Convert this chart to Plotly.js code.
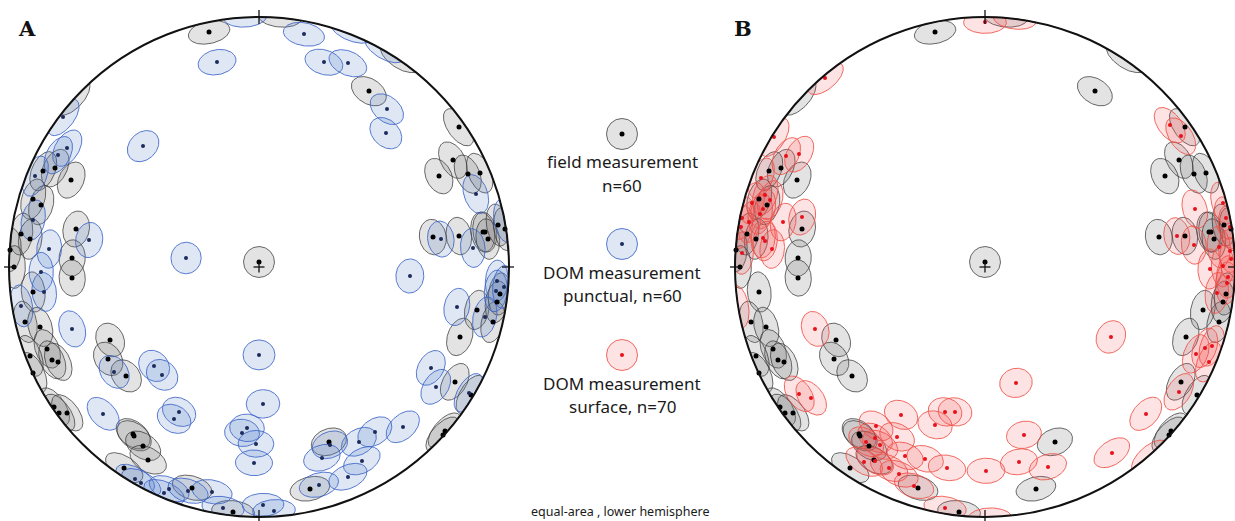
<!DOCTYPE html>
<html><head><meta charset="utf-8">
<script src="https://cdn.plot.ly/plotly-3.0.1.min.js"></script>
<style>html,body{margin:0;padding:0;background:#fff;overflow:hidden}#chart{width:1235px;height:521px}</style>
</head><body><div id="chart"></div>
<script>
// Projected pole positions (equal-area, lower hemisphere), unit = primitive radius
const fieldX=[-0.200,-0.752,-0.816,-0.864,-0.904,-0.872,-0.732,-0.952,-0.916,-0.996,-0.748,-0.980,0.000,0.440,0.800,0.776,0.720,0.836,0.884,0.696,0.800,0.896,0.904,0.916,0.956,0.984,-0.748,-0.904,-0.936,-0.876,-0.848,-0.828,-0.804,-0.916,-0.904,-0.596,-0.604,-0.532,-0.820,-0.800,-0.768,-0.504,-0.500,-0.464,-0.444,-0.540,-0.268,-0.104,0.872,0.804,0.936,0.964,0.952,0.784,0.848,0.744,0.736,0.280,0.204,-0.745,0.084,0.564];
const fieldY=[0.940,0.348,0.396,0.384,0.272,0.248,0.152,0.132,0.112,0.068,0.036,0.000,0.020,0.704,0.560,0.428,0.364,0.372,0.376,0.120,0.124,0.140,0.140,0.112,0.168,0.152,-0.044,-0.100,-0.220,-0.240,-0.328,-0.372,-0.380,-0.356,-0.424,-0.292,-0.368,-0.436,-0.560,-0.584,-0.584,-0.668,-0.676,-0.716,-0.772,-0.804,-0.884,-0.980,-0.172,-0.280,-0.220,-0.108,-0.140,-0.460,-0.512,-0.656,-0.672,-0.700,-0.888,0.680,1.004,0.840];

const punctX=[-0.168,-0.464,-0.784,-0.768,-0.804,-0.896,-0.904,-0.680,-0.840,-0.292,0.180,0.260,0.356,0.512,0.508,0.868,0.728,0.856,-0.872,-0.860,-0.952,-0.748,-0.580,-0.420,-0.388,-0.624,-0.320,-0.340,-0.496,-0.472,-0.380,-0.360,-0.284,-0.188,-0.144,-0.068,-0.048,-0.012,-0.020,0.000,0.604,0.016,0.792,0.904,0.952,0.948,0.980,0.688,0.708,0.840,0.576,0.464,0.400,0.284,0.252,0.412,0.356,0.240,0.016,0.060,-0.056,0.372,0.504,0.985];
const punctY=[0.820,0.484,0.600,0.476,0.448,0.364,0.188,0.108,0.072,0.036,0.932,0.820,0.816,0.632,0.536,0.292,0.112,0.076,-0.020,-0.100,-0.156,-0.248,-0.420,-0.396,-0.432,-0.588,-0.580,-0.608,-0.848,-0.864,-0.904,-0.888,-0.896,-0.900,-0.964,-0.664,-0.644,-0.708,-0.784,-0.352,-0.036,-0.548,-0.160,-0.200,-0.056,-0.096,-0.080,-0.404,-0.480,-0.504,-0.640,-0.660,-0.700,-0.712,-0.764,-0.776,-0.840,-0.872,-0.952,-0.976,1.004,0.948,0.876,0.185];

const surfX=[0.000,0.120,-0.640,-0.844,-0.796,-0.744,-0.896,-0.880,-0.860,-0.932,-0.888,-0.900,-0.972,-0.944,-0.976,-0.888,-0.880,-0.808,-0.732,-0.852,-0.972,-0.990,-0.680,-0.744,-0.696,-0.336,-0.160,-0.120,-0.200,-0.436,-0.352,-0.476,-0.440,-0.420,-0.320,-0.240,-0.484,-0.440,-0.384,-0.344,-0.284,-0.152,0.004,-0.160,0.740,0.784,0.840,0.768,0.836,0.952,0.964,0.980,0.936,0.980,0.984,0.900,0.952,0.972,0.928,0.968,0.908,0.880,0.844,0.896,0.776,0.644,0.504,0.124,0.156,0.136,0.252,0.508,0.660,0.020];
const surfY=[0.980,0.996,0.756,0.520,0.444,0.452,0.356,0.288,0.268,0.256,0.232,0.212,0.196,0.180,0.160,0.116,0.104,0.180,0.200,0.072,0.056,-0.160,-0.248,-0.508,-0.524,-0.592,-0.580,-0.580,-0.632,-0.636,-0.680,-0.700,-0.684,-0.712,-0.756,-0.768,-0.780,-0.776,-0.804,-0.828,-0.876,-0.804,-0.816,-0.964,0.568,0.524,0.232,0.124,0.088,0.256,0.196,0.160,0.080,0.064,0.032,-0.008,0.004,-0.040,-0.104,-0.064,-0.316,-0.324,-0.348,-0.380,-0.500,-0.588,-0.280,-0.464,-0.672,-0.780,-0.800,-0.744,-0.760,-1.008];

const coneAngleDeg=5;
const legendLabels=[["field measurement","n=60"],["DOM measurement","punctual, n=60"],["DOM measurement","surface, n=70"]];

const styles={
  field:{fill:'rgba(115,115,115,0.20)',line:'rgba(55,55,55,0.75)',dot:'#000000',dotSize:5},
  punct:{fill:'rgba(80,120,200,0.18)',line:'rgba(60,100,200,0.85)',dot:'#1c2a5c',dotSize:4},
  surf:{fill:'rgba(245,80,80,0.16)',line:'rgba(238,80,70,0.85)',dot:'#e8101a',dotSize:4}
};

function cross(a,b){return [a[1]*b[2]-a[2]*b[1],a[2]*b[0]-a[0]*b[2],a[0]*b[1]-a[1]*b[0]];}
function norm(a){const l=Math.hypot(a[0],a[1],a[2]);return [a[0]/l,a[1]/l,a[2]/l];}
// cone of confidence around a pole, projected equal-area (lower hemisphere), clipped at primitive
function coneOutline(X,Y,aDeg){
  const r=Math.hypot(X,Y);
  const z=1-r*r;
  const h=Math.sqrt(Math.max(0,1-z*z));
  const v=r>1e-9?[h*X/r,h*Y/r,z]:[0,0,1];
  const ref=Math.abs(v[2])<0.9?[0,0,1]:[1,0,0];
  const u1=norm(cross(v,ref)), u2=cross(v,u1);
  const A=aDeg*Math.PI/180, ca=Math.cos(A), sa=Math.sin(A);
  const xs=[],ys=[];
  for(let i=0;i<=96;i++){
    const t=2*Math.PI*i/96, c=Math.cos(t), s=Math.sin(t);
    const w=[ca*v[0]+sa*(c*u1[0]+s*u2[0]),ca*v[1]+sa*(c*u1[1]+s*u2[1]),ca*v[2]+sa*(c*u1[2]+s*u2[2])];
    const d=Math.sqrt(Math.max(1e-9,1+w[2]));
    let px=w[0]/d, py=w[1]/d;
    const rr=Math.hypot(px,py);
    if(rr>1){px/=rr;py/=rr;}
    xs.push(px);ys.push(py);
  }
  return [xs,ys];
}

const traces=[];
function addSeries(X,Y,st,xa,ya){
  for(let i=0;i<X.length;i++){
    const [xs,ys]=coneOutline(X[i],Y[i],coneAngleDeg);
    traces.push({type:'scatter',mode:'lines',x:xs,y:ys,fill:'toself',fillcolor:st.fill,
      line:{color:st.line,width:1},xaxis:xa,yaxis:ya,hoverinfo:'skip',showlegend:false});
  }
}
function addDots(X,Y,st,xa,ya){
  const dx=[],dy=[];
  for(let i=0;i<X.length;i++){ if(Math.hypot(X[i],Y[i])<=1){dx.push(X[i]);dy.push(Y[i]);} }
  traces.push({type:'scatter',mode:'markers',x:dx,y:dy,marker:{color:st.dot,size:st.dotSize,line:{width:0}},
    xaxis:xa,yaxis:ya,hoverinfo:'skip',showlegend:false,cliponaxis:true});
}
addSeries(fieldX,fieldY,styles.field,'x','y');
addSeries(punctX,punctY,styles.punct,'x','y');
addSeries(fieldX,fieldY,styles.field,'x2','y2');
addSeries(surfX,surfY,styles.surf,'x2','y2');
addDots(fieldX,fieldY,styles.field,'x','y');
addDots(punctX,punctY,styles.punct,'x','y');
addDots(fieldX,fieldY,styles.field,'x2','y2');
addDots(surfX,surfY,styles.surf,'x2','y2');

const W=1235,H=521;
const shapes=[];
[['x','y'],['x2','y2']].forEach(([xr,yr])=>{
  const base={xref:xr,yref:yr,layer:'above'};
  shapes.push(Object.assign({type:'circle',x0:-1,x1:1,y0:-1,y1:1,line:{color:'#111',width:2}},base));
  const tk=0.028;
  shapes.push(Object.assign({type:'line',x0:0,x1:0,y0:1-tk,y1:1+tk,line:{color:'#111',width:1.3}},base));
  shapes.push(Object.assign({type:'line',x0:0,x1:0,y0:-1-tk,y1:-1+tk,line:{color:'#111',width:1.3}},base));
  shapes.push(Object.assign({type:'line',x0:-1-tk,x1:-1+tk,y0:0,y1:0,line:{color:'#111',width:1.3}},base));
  shapes.push(Object.assign({type:'line',x0:1-tk,x1:1+tk,y0:0,y1:0,line:{color:'#111',width:1.3}},base));
  shapes.push(Object.assign({type:'line',x0:-0.022,x1:0.022,y0:0,y1:0,line:{color:'#111',width:1.3}},base));
  shapes.push(Object.assign({type:'line',x0:0,x1:0,y0:-0.022,y1:0.022,line:{color:'#111',width:1.3}},base));
});
// legend symbols
const legCx=622, legCy=[134,244,355], legR=15.5;
const legStyles=[styles.field,styles.punct,styles.surf];
const annotations=[];
legCy.forEach((cy,i)=>{
  const st=legStyles[i];
  shapes.push({type:'circle',xref:'paper',yref:'paper',x0:(legCx-legR)/W,x1:(legCx+legR)/W,y0:1-(cy+legR)/H,y1:1-(cy-legR)/H,
    fillcolor:st.fill,line:{color:st.line,width:1}});
  const dr=st.dotSize/2;
  shapes.push({type:'circle',xref:'paper',yref:'paper',x0:(legCx-dr)/W,x1:(legCx+dr)/W,y0:1-(cy+dr)/H,y1:1-(cy-dr)/H,
    fillcolor:st.dot,line:{width:0}});
  annotations.push({xref:'paper',yref:'paper',x:legCx/W,y:1-(cy+28)/H,text:legendLabels[i][0],showarrow:false,
    xanchor:'center',yanchor:'middle',font:{family:'Noto Sans',size:17,color:'#1a1a1a'}});
  annotations.push({xref:'paper',yref:'paper',x:legCx/W,y:1-(cy+51)/H,text:legendLabels[i][1],showarrow:false,
    xanchor:'center',yanchor:'middle',font:{family:'Noto Sans',size:17,color:'#1a1a1a'}});
});
annotations.push({xref:'paper',yref:'paper',x:621/W,y:0,text:'equal-area , lower hemisphere',showarrow:false,
  xanchor:'center',yanchor:'bottom',borderpad:0,font:{family:'Noto Sans',size:12.5,color:'#1a1a1a'}});
annotations.push({xref:'paper',yref:'paper',x:27/W,y:1-29/H,text:'<b>A</b>',showarrow:false,
  xanchor:'center',yanchor:'middle',font:{family:'DejaVu Serif',size:21,color:'#111'}});
annotations.push({xref:'paper',yref:'paper',x:743/W,y:1-29/H,text:'<b>B</b>',showarrow:false,
  xanchor:'center',yanchor:'middle',font:{family:'DejaVu Serif',size:21,color:'#111'}});

const ax={visible:false,showgrid:false,zeroline:false,fixedrange:true};
const layout={
  width:W,height:H,margin:{l:0,r:0,t:0,b:0},paper_bgcolor:'#fff',plot_bgcolor:'rgba(0,0,0,0)',showlegend:false,
  xaxis:Object.assign({domain:[4/W,514/W],range:[-1.02,1.02]},ax),
  yaxis:Object.assign({domain:[0,514/H],range:[-1.016,1.04],anchor:'x'},ax),
  xaxis2:Object.assign({domain:[730/W,1],range:[-1.02,1.0],anchor:'y2'},ax),
  yaxis2:Object.assign({domain:[0,514/H],range:[-1.016,1.04],anchor:'x2'},ax),
  shapes:shapes,annotations:annotations
};
Plotly.newPlot('chart',traces,layout,{displayModeBar:false,staticPlot:true});
</script></body></html>
